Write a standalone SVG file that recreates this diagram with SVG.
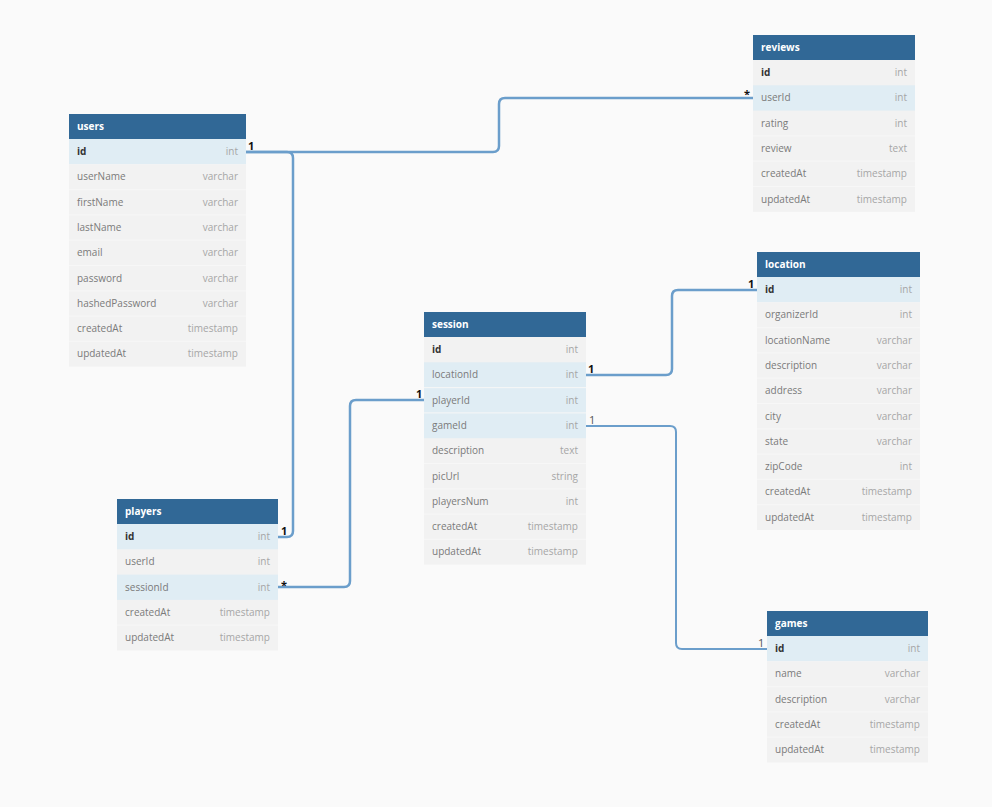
<svg xmlns="http://www.w3.org/2000/svg" width="992" height="807" viewBox="0 0 992 807">
<defs>
<style>
.bg{fill:#fafafa}
.hd{fill:#316896}
.ht{font-family:"Open Sans","Liberation Sans",sans-serif;font-size:10px;font-weight:bold;fill:#ffffff}
.r{fill:#f2f2f2}
.rk{fill:#e0edf4}
.sep{stroke:#f7f7f7;stroke-width:1}
.n{font-family:"Open Sans","Liberation Sans",sans-serif;font-size:10px;fill:#7a7a7a}
.nb{font-family:"Open Sans","Liberation Sans",sans-serif;font-size:10px;font-weight:bold;fill:#333333}
.t{font-family:"Open Sans","Liberation Sans",sans-serif;font-size:10px;fill:#a6a6a6;text-anchor:end}
.c{fill:none;stroke:#6b9ecb;stroke-width:2.5}
.c2{fill:none;stroke:#6b9ecb;stroke-width:2}
.lb{font-family:"Open Sans","Liberation Sans",sans-serif;font-size:11px;font-weight:bold;fill:#111111}
.lt{font-family:"Open Sans","Liberation Sans",sans-serif;font-size:11px;fill:#555555}
</style>
</defs>
<rect class="bg" x="0" y="0" width="992" height="807"/>

<g id="connectors">
<path class="c" d="M246,152 H493 Q499,152 499,146 V104 Q499,98 505,98 H753"/>
<path class="c" d="M246,152 H287 Q293,152 293,158 V531 Q293,537 287,537 H278"/>
<path class="c" d="M586,375 H666 Q672,375 672,369 V296 Q672,290 678,290 H757"/>
<path class="c" d="M278,587 H344 Q350,587 350,581 V406 Q350,400 356,400 H424"/>
<path class="c2" d="M586,426 H670 Q676,426 676,432 V643 Q676,649 682,649 H767"/>
<text class="lb" x="248" y="150">1</text>
<text class="lb" x="744" y="98">*</text>
<text class="lb" x="281" y="535">1</text>
<text class="lb" x="281" y="589">*</text>
<text class="lb" x="416" y="398">1</text>
<text class="lb" x="588" y="373">1</text>
<text class="lb" x="748" y="288">1</text>
<text class="lt" x="589" y="424">1</text>
<text class="lt" x="758" y="647">1</text>
</g>

<g id="users" transform="translate(69,114)">
<rect class="hd" x="0" y="0" width="177" height="25"/>
<text class="ht" x="8" y="16">users</text>
<rect class="rk" x="0" y="25" width="177" height="25.3"/>
<rect class="r" x="0" y="50.3" width="177" height="202.4"/>
<line class="sep" x1="0" y1="75.6" x2="177" y2="75.6"/>
<line class="sep" x1="0" y1="100.9" x2="177" y2="100.9"/>
<line class="sep" x1="0" y1="126.2" x2="177" y2="126.2"/>
<line class="sep" x1="0" y1="151.5" x2="177" y2="151.5"/>
<line class="sep" x1="0" y1="176.8" x2="177" y2="176.8"/>
<line class="sep" x1="0" y1="202.1" x2="177" y2="202.1"/>
<line class="sep" x1="0" y1="227.4" x2="177" y2="227.4"/>
<text class="nb" x="8" y="41">id</text><text class="t" x="169" y="41">int</text>
<text class="n" x="8" y="66.3">userName</text><text class="t" x="169" y="66.3">varchar</text>
<text class="n" x="8" y="91.6">firstName</text><text class="t" x="169" y="91.6">varchar</text>
<text class="n" x="8" y="116.9">lastName</text><text class="t" x="169" y="116.9">varchar</text>
<text class="n" x="8" y="142.2">email</text><text class="t" x="169" y="142.2">varchar</text>
<text class="n" x="8" y="167.5">password</text><text class="t" x="169" y="167.5">varchar</text>
<text class="n" x="8" y="192.8">hashedPassword</text><text class="t" x="169" y="192.8">varchar</text>
<text class="n" x="8" y="218.1">createdAt</text><text class="t" x="169" y="218.1">timestamp</text>
<text class="n" x="8" y="243.4">updatedAt</text><text class="t" x="169" y="243.4">timestamp</text>
</g>

<g id="reviews" transform="translate(753,35)">
<rect class="hd" x="0" y="0" width="162" height="25"/>
<text class="ht" x="8" y="16">reviews</text>
<rect class="r" x="0" y="25" width="162" height="151.8"/>
<rect class="rk" x="0" y="50.3" width="162" height="25.3"/>
<line class="sep" x1="0" y1="100.9" x2="162" y2="100.9"/>
<line class="sep" x1="0" y1="126.2" x2="162" y2="126.2"/>
<line class="sep" x1="0" y1="151.5" x2="162" y2="151.5"/>
<text class="nb" x="8" y="41">id</text><text class="t" x="154" y="41">int</text>
<text class="n" x="8" y="66.3">userId</text><text class="t" x="154" y="66.3">int</text>
<text class="n" x="8" y="91.6">rating</text><text class="t" x="154" y="91.6">int</text>
<text class="n" x="8" y="116.9">review</text><text class="t" x="154" y="116.9">text</text>
<text class="n" x="8" y="142.2">createdAt</text><text class="t" x="154" y="142.2">timestamp</text>
<text class="n" x="8" y="167.5">updatedAt</text><text class="t" x="154" y="167.5">timestamp</text>
</g>

<g id="session" transform="translate(424,312)">
<rect class="hd" x="0" y="0" width="162" height="25"/>
<text class="ht" x="8" y="16">session</text>
<rect class="r" x="0" y="25" width="162" height="227.7"/>
<rect class="rk" x="0" y="50.3" width="162" height="75.9"/>
<line class="sep" x1="0" y1="75.6" x2="162" y2="75.6"/>
<line class="sep" x1="0" y1="100.9" x2="162" y2="100.9"/>
<line class="sep" x1="0" y1="151.5" x2="162" y2="151.5"/>
<line class="sep" x1="0" y1="176.8" x2="162" y2="176.8"/>
<line class="sep" x1="0" y1="202.1" x2="162" y2="202.1"/>
<line class="sep" x1="0" y1="227.4" x2="162" y2="227.4"/>
<text class="nb" x="8" y="41">id</text><text class="t" x="154" y="41">int</text>
<text class="n" x="8" y="66.3">locationId</text><text class="t" x="154" y="66.3">int</text>
<text class="n" x="8" y="91.6">playerId</text><text class="t" x="154" y="91.6">int</text>
<text class="n" x="8" y="116.9">gameId</text><text class="t" x="154" y="116.9">int</text>
<text class="n" x="8" y="142.2">description</text><text class="t" x="154" y="142.2">text</text>
<text class="n" x="8" y="167.5">picUrl</text><text class="t" x="154" y="167.5">string</text>
<text class="n" x="8" y="192.8">playersNum</text><text class="t" x="154" y="192.8">int</text>
<text class="n" x="8" y="218.1">createdAt</text><text class="t" x="154" y="218.1">timestamp</text>
<text class="n" x="8" y="243.4">updatedAt</text><text class="t" x="154" y="243.4">timestamp</text>
</g>

<g id="location" transform="translate(757,252)">
<rect class="hd" x="0" y="0" width="163" height="25"/>
<text class="ht" x="8" y="16">location</text>
<rect class="rk" x="0" y="25" width="163" height="25.3"/>
<rect class="r" x="0" y="50.3" width="163" height="227.7"/>
<line class="sep" x1="0" y1="75.6" x2="163" y2="75.6"/>
<line class="sep" x1="0" y1="100.9" x2="163" y2="100.9"/>
<line class="sep" x1="0" y1="126.2" x2="163" y2="126.2"/>
<line class="sep" x1="0" y1="151.5" x2="163" y2="151.5"/>
<line class="sep" x1="0" y1="176.8" x2="163" y2="176.8"/>
<line class="sep" x1="0" y1="202.1" x2="163" y2="202.1"/>
<line class="sep" x1="0" y1="227.4" x2="163" y2="227.4"/>
<line class="sep" x1="0" y1="252.7" x2="163" y2="252.7"/>
<text class="nb" x="8" y="41">id</text><text class="t" x="155" y="41">int</text>
<text class="n" x="8" y="66.3">organizerId</text><text class="t" x="155" y="66.3">int</text>
<text class="n" x="8" y="91.6">locationName</text><text class="t" x="155" y="91.6">varchar</text>
<text class="n" x="8" y="116.9">description</text><text class="t" x="155" y="116.9">varchar</text>
<text class="n" x="8" y="142.2">address</text><text class="t" x="155" y="142.2">varchar</text>
<text class="n" x="8" y="167.5">city</text><text class="t" x="155" y="167.5">varchar</text>
<text class="n" x="8" y="192.8">state</text><text class="t" x="155" y="192.8">varchar</text>
<text class="n" x="8" y="218.1">zipCode</text><text class="t" x="155" y="218.1">int</text>
<text class="n" x="8" y="243.4">createdAt</text><text class="t" x="155" y="243.4">timestamp</text>
<text class="n" x="8" y="268.7">updatedAt</text><text class="t" x="155" y="268.7">timestamp</text>
</g>

<g id="players" transform="translate(117,499)">
<rect class="hd" x="0" y="0" width="161" height="25"/>
<text class="ht" x="8" y="16">players</text>
<rect class="r" x="0" y="25" width="161" height="126.5"/>
<rect class="rk" x="0" y="25" width="161" height="25.3"/>
<rect class="rk" x="0" y="75.6" width="161" height="25.3"/>
<line class="sep" x1="0" y1="126.2" x2="161" y2="126.2"/>
<text class="nb" x="8" y="41">id</text><text class="t" x="153" y="41">int</text>
<text class="n" x="8" y="66.3">userId</text><text class="t" x="153" y="66.3">int</text>
<text class="n" x="8" y="91.6">sessionId</text><text class="t" x="153" y="91.6">int</text>
<text class="n" x="8" y="116.9">createdAt</text><text class="t" x="153" y="116.9">timestamp</text>
<text class="n" x="8" y="142.2">updatedAt</text><text class="t" x="153" y="142.2">timestamp</text>
</g>

<g id="games" transform="translate(767,611)">
<rect class="hd" x="0" y="0" width="161" height="25"/>
<text class="ht" x="8" y="16">games</text>
<rect class="rk" x="0" y="25" width="161" height="25.3"/>
<rect class="r" x="0" y="50.3" width="161" height="101.2"/>
<line class="sep" x1="0" y1="75.6" x2="161" y2="75.6"/>
<line class="sep" x1="0" y1="100.9" x2="161" y2="100.9"/>
<line class="sep" x1="0" y1="126.2" x2="161" y2="126.2"/>
<text class="nb" x="8" y="41">id</text><text class="t" x="153" y="41">int</text>
<text class="n" x="8" y="66.3">name</text><text class="t" x="153" y="66.3">varchar</text>
<text class="n" x="8" y="91.6">description</text><text class="t" x="153" y="91.6">varchar</text>
<text class="n" x="8" y="116.9">createdAt</text><text class="t" x="153" y="116.9">timestamp</text>
<text class="n" x="8" y="142.2">updatedAt</text><text class="t" x="153" y="142.2">timestamp</text>
</g>
</svg>
